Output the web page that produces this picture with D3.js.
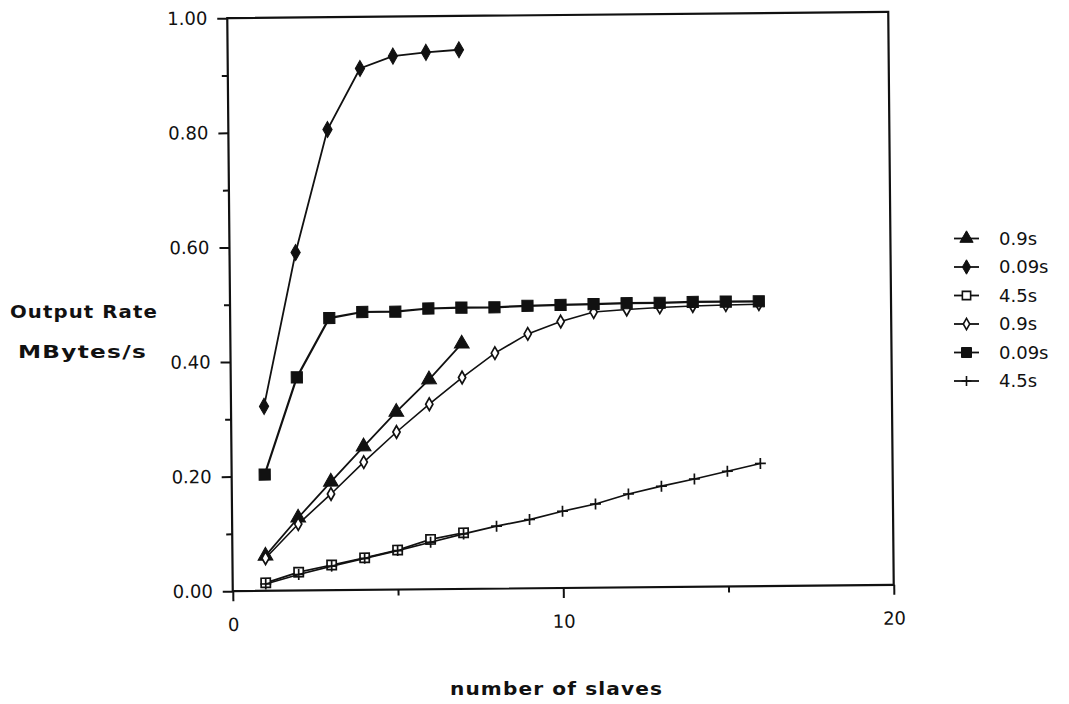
<!DOCTYPE html>
<html>
<head>
<meta charset="utf-8">
<script src="https://cdn.jsdelivr.net/npm/d3@7"></script>
<style>
  html, body { margin: 0; padding: 0; background: #fff; }
  svg { display: block; }
  .tick text { font-family: "DejaVu Sans", sans-serif; font-size: 18px; fill: #111; }
  .title { font-family: "DejaVu Sans", sans-serif; font-weight: bold; font-size: 18px; fill: #111; letter-spacing: 1px; }
  .legend text { font-family: "DejaVu Sans", sans-serif; font-size: 18px; fill: #111; }
</style>
</head>
<body>
<svg id="chart" width="1069" height="704"></svg>
<script>
// Data (x = number of slaves, y = output rate in MBytes/s)
const slavesShort = [1, 2, 3, 4, 5, 6, 7];
const slavesLong = [1, 2, 3, 4, 5, 6, 7, 8, 9, 10, 11, 12, 13, 14, 15, 16];

const tri09 = [0.061, 0.127, 0.189, 0.250, 0.310, 0.366, 0.428];
const diamond009 = [0.322, 0.590, 0.804, 0.910, 0.931, 0.937, 0.941];
const square45 = [0.014, 0.032, 0.044, 0.056, 0.069, 0.087, 0.098];
const openDiamond09 = [0.057, 0.116, 0.168, 0.223, 0.275, 0.323, 0.369, 0.411, 0.444, 0.465, 0.481, 0.485, 0.488, 0.490, 0.491, 0.492];
const filledSquare009 = [0.203, 0.372, 0.475, 0.485, 0.485, 0.490, 0.491, 0.491, 0.493, 0.494, 0.495, 0.496, 0.496, 0.497, 0.497, 0.497];
const plus45 = [0.012, 0.028, 0.042, 0.055, 0.068, 0.082, 0.096, 0.109, 0.120, 0.134, 0.146, 0.163, 0.176, 0.188, 0.201, 0.214];

const legendLabels = ['0.9s', '0.09s', '4.5s', '0.9s', '0.09s', '4.5s'];
const xMajorTicks = [0, 10, 20];
const xMinorTicks = [5, 15];
const yMajorTicks = [0, 0.2, 0.4, 0.6, 0.8, 1.0];
const yMinorTicks = [0.1, 0.3, 0.5, 0.7, 0.9];

// Layout (the scanned chart is tilted a little, so the plot group is rotated)
const frame = { left: 230, right: 891, top: 15, bottom: 588 };
const tilt = { angle: -0.55, cx: 560.6, cy: 301.4 };
const ink = '#111';

const svg = d3.select('#chart');

const x = d3.scaleLinear().domain([0, 20]).range([frame.left, frame.right]);
const y = d3.scaleLinear().domain([0, 1]).range([frame.bottom, frame.top]);

// Plus marker drawn as two thin lines
const plusType = {
    draw(context, size) {
        const r = Math.sqrt(size) / 2;
        context.moveTo(-r, 0); context.lineTo(r, 0);
        context.moveTo(0, -r); context.lineTo(0, r);
    }
};

const series = [
    { xs: slavesShort, ys: tri09, type: d3.symbolTriangle, size: 95, fill: ink, width: 1.8 },
    { xs: slavesShort, ys: diamond009, type: d3.symbolDiamond, size: 75, fill: ink, width: 1.8 },
    { xs: slavesShort, ys: square45, type: d3.symbolSquare, size: 85, fill: 'none', width: 1.7 },
    { xs: slavesLong, ys: openDiamond09, type: d3.symbolDiamond, size: 45, fill: 'none', width: 1.6 },
    { xs: slavesLong, ys: filledSquare009, type: d3.symbolSquare, size: 125, fill: ink, width: 2.2 },
    { xs: slavesLong, ys: plus45, type: plusType, size: 120, fill: 'none', width: 1.7 }
];

const plot = svg.append('g')
    .attr('transform', `rotate(${tilt.angle},${tilt.cx},${tilt.cy})`);

// Frame
plot.append('rect')
    .attr('x', frame.left).attr('y', frame.top)
    .attr('width', frame.right - frame.left)
    .attr('height', frame.bottom - frame.top)
    .attr('fill', 'none').attr('stroke', ink).attr('stroke-width', 2.2);

// Y axis: long labelled ticks and short unlabelled ones
const yMajor = plot.append('g')
    .attr('transform', `translate(${frame.left},0)`)
    .call(d3.axisLeft(y).tickValues(yMajorTicks).tickSize(10).tickPadding(10)
        .tickSizeOuter(0).tickFormat(d3.format('.2f')));
const yMinor = plot.append('g')
    .attr('transform', `translate(${frame.left},0)`)
    .call(d3.axisLeft(y).tickValues(yMinorTicks).tickSize(6).tickSizeOuter(0).tickFormat(''));

// X axis
const xMajor = plot.append('g')
    .attr('transform', `translate(0,${frame.bottom})`)
    .call(d3.axisBottom(x).tickValues(xMajorTicks).tickSize(10).tickPadding(17).tickSizeOuter(0));
const xMinor = plot.append('g')
    .attr('transform', `translate(0,${frame.bottom})`)
    .call(d3.axisBottom(x).tickValues(xMinorTicks).tickSize(6).tickSizeOuter(0).tickFormat(''));

[yMajor, yMinor, xMajor, xMinor].forEach(a => {
    a.select('.domain').remove();
    a.selectAll('.tick line').attr('stroke', ink).attr('stroke-width', 2);
    a.attr('font-family', null).attr('font-size', null);
});

// Series lines and markers
const line = d3.line().x(d => x(d[0])).y(d => y(d[1]));

series.forEach(s => {
    const pts = s.xs.map((v, i) => [v, s.ys[i]]);
    plot.append('path')
        .datum(pts)
        .attr('d', line)
        .attr('fill', 'none')
        .attr('stroke', ink)
        .attr('stroke-width', s.width);

    plot.append('g')
        .selectAll('path')
        .data(pts)
        .join('path')
        .attr('transform', d => `translate(${x(d[0])},${y(d[1])})`)
        .attr('d', d3.symbol().type(s.type).size(s.size))
        .attr('fill', s.fill === 'none' ? '#fff' : s.fill)
        .attr('stroke', ink)
        .attr('stroke-width', s.fill === 'none' ? 1.7 : 1);
});

// Axis titles
svg.append('text').attr('class', 'title')
    .attr('x', 10).attr('y', 318)
    .attr('textLength', 148).attr('lengthAdjust', 'spacingAndGlyphs')
    .text('Output Rate');
svg.append('text').attr('class', 'title')
    .attr('x', 18).attr('y', 358)
    .attr('textLength', 129).attr('lengthAdjust', 'spacingAndGlyphs')
    .text('MBytes/s');
svg.append('text').attr('class', 'title')
    .attr('x', 450).attr('y', 695)
    .attr('textLength', 213).attr('lengthAdjust', 'spacingAndGlyphs')
    .text('number of slaves');

// Legend
const legend = svg.append('g').attr('class', 'legend');
series.forEach((s, i) => {
    const ly = 238.5 + i * 28.5;
    const g = legend.append('g').attr('transform', `translate(0,${ly})`);
    g.append('line')
        .attr('x1', 954).attr('x2', 979)
        .attr('stroke', ink).attr('stroke-width', 1.8);
    g.append('path')
        .attr('transform', 'translate(966.5,0)')
        .attr('d', d3.symbol().type(s.type).size(s.size * 0.8))
        .attr('fill', s.fill === 'none' ? '#fff' : s.fill)
        .attr('stroke', ink)
        .attr('stroke-width', s.fill === 'none' ? 1.6 : 1);
    g.append('text')
        .attr('x', 999).attr('dy', '0.35em')
        .text(legendLabels[i]);
});
</script>
</body>
</html>
